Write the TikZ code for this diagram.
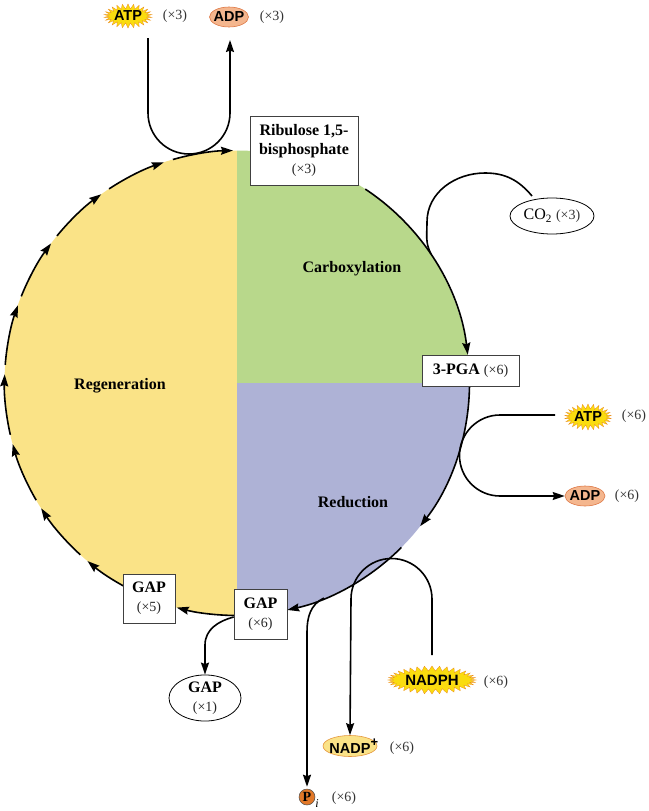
\documentclass[tikz,border=0pt]{standalone}
\usepackage{fontspec}
\setmainfont{Liberation Serif}
\newfontfamily\labsans{Liberation Sans}
\usetikzlibrary{arrows.meta,shapes.geometric,shapes.symbols,calc}
\definecolor{yel}{RGB}{250,227,135}
\definecolor{grn}{RGB}{184,216,139}
\definecolor{pur}{RGB}{174,178,214}
\definecolor{burstin}{RGB}{250,220,15}
\definecolor{burstout}{RGB}{242,150,28}
\definecolor{burstdraw}{RGB}{236,140,30}
\definecolor{adpfill}{RGB}{244,182,142}
\definecolor{adpdraw}{RGB}{222,120,70}
\definecolor{nadpfill}{RGB}{250,226,135}
\definecolor{nadpdraw}{RGB}{228,150,60}
\definecolor{pifill}{RGB}{226,120,40}
\pgfdeclareradialshading{burstshade}{\pgfpoint{0bp}{0bp}}{color(0bp)=(burstin); color(27bp)=(burstin); color(34bp)=(burstout); color(50bp)=(burstout)}
\begin{document}
\begin{tikzpicture}[x=1pt,y=1pt,
  arr/.style={line width=1.6pt, -{Stealth[length=12pt,width=8pt,inset=1.5pt]}},
  ln/.style={line width=1.6pt},
  box/.style={draw=black!75, line width=0.8pt, fill=white, align=center, inner sep=0pt, font=\fontsize{16}{19}\selectfont},
  mult/.style={font=\fontsize{14}{16}\selectfont, text=black!80},
  phase/.style={font=\bfseries\fontsize{16}{19}\selectfont},
  burst/.style={starburst, starburst points=26, starburst point height=5pt, random starburst=0, inner sep=0pt, draw=burstdraw, line width=0.3pt, shading=burstshade, font=\labsans\bfseries\fontsize{14.5}{15}\selectfont},
  adp/.style={ellipse, fill=adpfill, draw=adpdraw, line width=0.6pt, inner sep=0pt, font=\labsans\bfseries\fontsize{14.5}{15}\selectfont},
  nadp/.style={ellipse, fill=nadpfill, draw=nadpdraw, line width=0.6pt, inner sep=0pt, font=\labsans\bfseries\fontsize{14.5}{15}\selectfont},
  oval/.style={ellipse, draw=black, line width=0.8pt, fill=white, inner sep=0pt, align=center, font=\fontsize{16}{19}\selectfont}
]
\useasboundingbox (0,0) rectangle (648,-811);
\coordinate (C) at (237,-383);
% quadrant fills
\fill[yel] ($(C)+(90:232.5pt)$) arc[start angle=90,end angle=270,radius=232.5pt] -- cycle;
\fill[grn] (C) -- ($(C)+(0:232.5pt)$) arc[start angle=0,end angle=90,radius=232.5pt] -- cycle;
\fill[pur] (C) -- ($(C)+(0:232.5pt)$) arc[start angle=0,end angle=-90,radius=232.5pt] -- cycle;

% regeneration arrows (left half)
\foreach \i in {0,...,8}{
  \pgfmathsetmacro{\a}{91+17.375*\i}
  \pgfmathsetmacro{\b}{\a+15}
  \draw[arr] ($(C)+(\b:232.5pt)$) arc[start angle=\b,end angle=\a,radius=232.5pt];
}
% carboxylation arc
\draw[arr] ($(C)+(56.5:232.5pt)$) arc[start angle=56.5,end angle=7,radius=232.5pt];
% reduction arcs
\draw[arr] ($(C)+(-1:232.5pt)$) arc[start angle=-1,end angle=-38,radius=232.5pt];
\draw[arr] ($(C)+(-45:232.5pt)$) arc[start angle=-45,end angle=-77.5,radius=232.5pt];
% GAP6 -> GAP5
\draw[arr] ($(C)+(269.3:232.5pt)$) arc[start angle=269.3,end angle=255,radius=232.5pt];

% phase labels
\node[phase] (regen) at (120,-386) {Regeneration};
\node[phase] (carbox) at (352,-269) {Carboxylation};
\node[phase] (reduc) at (353,-502) {Reduction};

% top ATP / ADP
\node[burst, minimum width=48pt, minimum height=24pt] (atpA) at (128,-16) {\makebox[0pt]{ATP}};
\node[mult] (atpAm) at (175,-16) {(×3)};
\node[adp, minimum width=39pt, minimum height=20pt] (adpA) at (229,-17) {\makebox[0pt]{ADP}};
\node[mult] (adpAm) at (272,-17) {(×3)};
\coordinate (atpAin) at (148,-38);
\coordinate (adpAout) at (230,-40);
\draw[arr] (atpAin) -- (148,-113) arc[start angle=180,end angle=360,radius=41pt] -- (adpAout);

% CO2
\node[oval, minimum width=84pt, minimum height=36pt] (co2) at (552,-216) {\makebox[0pt]{CO\textsubscript{2}\ {\fontsize{14}{16}\selectfont\color{black!80}(×3)}}};
\draw[ln] (532,-196) to[out=130,in=0] (485,-173) to[out=180,in=90] (427,-222) to[out=-90,in=118] (431,-254);

% ATP x6 / ADP x6
\node[burst, minimum width=47pt, minimum height=26pt] (atpB) at (588,-417) {\makebox[0pt]{ATP}};
\node[mult] (atpBm) at (634,-416) {(×6)};
\node[adp, minimum width=40pt, minimum height=20pt] (adpB) at (585,-496) {\makebox[0pt]{ADP}};
\node[mult] (adpBm) at (627,-496) {(×6)};
\coordinate (atpBin) at (555,-415);
\draw[arr] (atpBin) -- (500,-415) arc[start angle=90,end angle=270,radius=40.5pt] -- (adpB.west);

% NADPH / NADP+
\node[burst, starburst points=36, minimum width=88pt, minimum height=28pt, font=\labsans\bfseries\fontsize{15}{15}\selectfont] (nadph) at (432,-680) {\makebox[0pt]{NADPH}};
\node[mult] (nadphm) at (496,-682) {(×6)};
\node[nadp, minimum width=54pt, minimum height=21pt] (nadp) at (350,-746) {\makebox[0pt]{NADP\rlap{\raisebox{0.85ex}{\fontsize{13}{13}\selectfont +}}}};
\node[mult] (nadpm) at (402,-748) {(×6)};
\coordinate (nadphin) at (432,-655);
\draw[arr] (nadphin) -- (432,-599) arc[start angle=0,end angle=180,radius=40.5pt] -- (nadp.north);

% Pi
\node[circle, fill=pifill, draw=black!70, line width=0.5pt, minimum size=16pt, inner sep=0pt, font=\bfseries\fontsize{14}{14}\selectfont] (pi) at (307,-797) {P};
\node[font=\itshape\fontsize{12}{12}\selectfont, inner sep=0pt] (pisub) at (317,-804) {i};
\node[mult] (pim) at (344,-798) {(×6)};
\draw[arr] (324,-598) to[out=-155,in=90] (307,-632) -- ([yshift=2pt]pi.north);

% boxes
\node[box, minimum width=108pt, minimum height=69pt] (rubp) at (304,-150.5) {\bfseries Ribulose 1,5-\\\bfseries bisphosphate\\{\fontsize{14}{19}\selectfont\color{black!85}(×3)}};
\node[box, minimum width=97pt, minimum height=31pt] (pga) at (470.5,-370.5) {\textbf{3-PGA} {\fontsize{14}{16}\selectfont\color{black!85}(×6)}};
\node[box, minimum width=52pt, minimum height=49pt] (gap5) at (149,-598.5) {\bfseries GAP\\{\fontsize{14}{19}\selectfont\color{black!85}(×5)}};
\node[box, minimum width=53pt, minimum height=50pt] (gap6) at (260.5,-614) {\bfseries GAP\\{\fontsize{14}{19}\selectfont\color{black!85}(×6)}};

% GAP x1
\node[oval, minimum width=72pt, minimum height=40pt] (gap1) at (205,-698) {\bfseries GAP\\{\fontsize{14}{19}\selectfont\color{black!85}(×1)}};
\draw[arr] ([yshift=-3pt]gap6.west) to[out=195,in=90] (205,-645) -- (gap1.north);
\end{tikzpicture}
\end{document}
